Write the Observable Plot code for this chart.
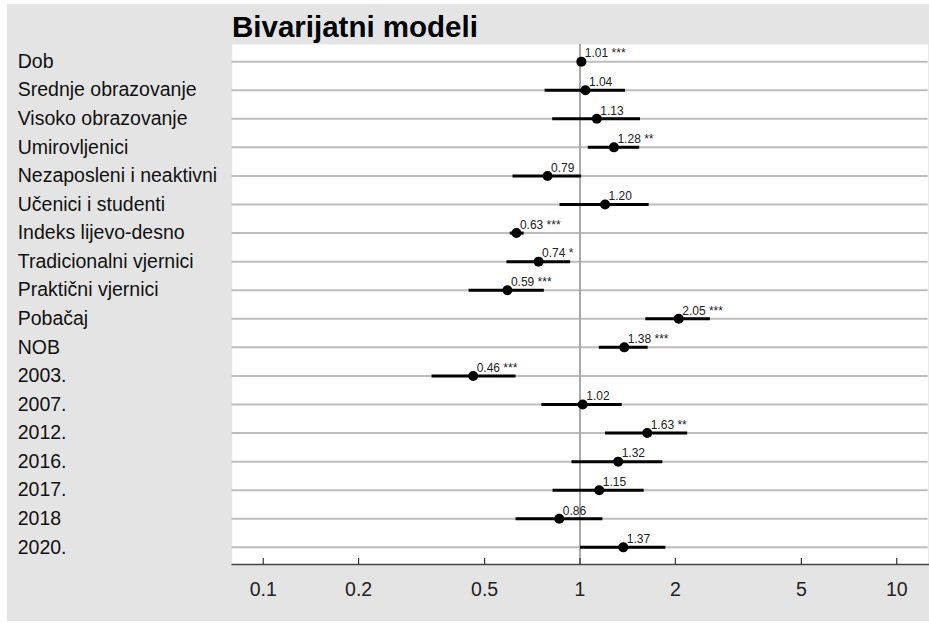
<!DOCTYPE html>
<html>
<head>
<meta charset="utf-8">
<script src="https://cdn.jsdelivr.net/npm/d3@7"></script>
<script src="https://cdn.jsdelivr.net/npm/@observablehq/plot@0.6"></script>
<style>
  html, body { margin: 0; padding: 0; background: #ffffff; }
  #wrap { position: relative; width: 929px; height: 623px; overflow: hidden; }
  #bg { position: absolute; left: 7px; top: 4px; width: 922px; height: 617px; background: #e4e4e4; }
  #title { position: absolute; left: 232px; top: 10px; font: bold 29.5px "Liberation Sans", Arial, sans-serif; color: #000; line-height: 34px; white-space: nowrap; }
  #chart { position: absolute; left: 0; top: 0; }
</style>
</head>
<body>
<div id="wrap">
  <div id="bg"></div>
  <div id="chart"></div>
  <div id="title">Bivarijatni modeli</div>
</div>
<script>
const variables = ["Dob", "Srednje obrazovanje", "Visoko obrazovanje", "Umirovljenici", "Nezaposleni i neaktivni", "Učenici i studenti", "Indeks lijevo-desno", "Tradicionalni vjernici", "Praktični vjernici", "Pobačaj", "NOB", "2003.", "2007.", "2012.", "2016.", "2017.", "2018", "2020."];
const oddsRatios = [1.01, 1.04, 1.13, 1.28, 0.79, 1.20, 0.63, 0.74, 0.59, 2.05, 1.38, 0.46, 1.02, 1.63, 1.32, 1.15, 0.86, 1.37];
const ciLow = [1.00, 0.773, 0.817, 1.058, 0.612, 0.862, 0.600, 0.586, 0.445, 1.608, 1.146, 0.340, 0.755, 1.200, 0.940, 0.819, 0.626, 1.000];
const ciHigh = [1.02, 1.388, 1.547, 1.539, 1.009, 1.647, 0.664, 0.931, 0.769, 2.570, 1.635, 0.626, 1.354, 2.180, 1.820, 1.589, 1.177, 1.860];
const stars = ["***", "", "", "**", "", "", "***", "*", "***", "***", "***", "***", "", "**", "", "", "", ""];
const valueLabels = ["1.01", "1.04", "1.13", "1.28", "0.79", "1.20", "0.63", "0.74", "0.59", "2.05", "1.38", "0.46", "1.02", "1.63", "1.32", "1.15", "0.86", "1.37"];
const xTicks = [0.1, 0.2, 0.5, 1, 2, 5, 10];
const xTickLabels = ["0.1", "0.2", "0.5", "1", "2", "5", "10"];

const rows = variables.map((v, i) => ({
  name: v, or: oddsRatios[i], lo: ciLow[i], hi: ciHigh[i],
  label: valueLabels[i] + (stars[i] ? " " + stars[i] : "")
}));

const font = '"Liberation Sans", Arial, sans-serif';

const chart = Plot.plot({
  width: 929,
  height: 623,
  marginLeft: 231.7,
  marginRight: 1.3,
  marginTop: 44,
  marginBottom: 59,
  style: { background: "transparent", fontFamily: font, overflow: "visible" },
  x: { type: "log", domain: [0.0798, 12.57], axis: null },
  y: { type: "point", domain: variables, padding: 0.6, round: false, axis: null },
  marks: [
    Plot.frame({ fill: "white", stroke: null }),
    Plot.ruleY(rows, { y: "name", stroke: "#bdbdbd", strokeWidth: 2 }),
    Plot.ruleX([1], { stroke: "#a9a9a9", strokeWidth: 2 }),
    Plot.ruleX(xTicks, { x: d => d, insetTop: 514, stroke: "#333", strokeWidth: 1.2 }),
    Plot.frame({ anchor: "bottom", stroke: "#444", strokeWidth: 1.5 }),
    Plot.link(rows, { x1: "lo", x2: "hi", y1: "name", y2: "name", stroke: "black", strokeWidth: 3 }),
    Plot.dot(rows, { x: "or", y: "name", r: 5, fill: "black", stroke: null }),
    Plot.text(rows, { x: "or", y: "name", text: "label", textAnchor: "start", dx: 3.5, dy: -8, fontSize: 12, fill: "#222" }),
    Plot.text(rows, { y: "name", text: "name", frameAnchor: "left", textAnchor: "start", dx: -214.5, fontSize: 19.5, fill: "#111" }),
    Plot.text(xTicks, { x: d => d, text: (d, i) => xTickLabels[i], frameAnchor: "bottom", dy: 31, fontSize: 19.5, fill: "#222" })
  ]
});
document.getElementById("chart").appendChild(chart);
</script>
</body>
</html>
